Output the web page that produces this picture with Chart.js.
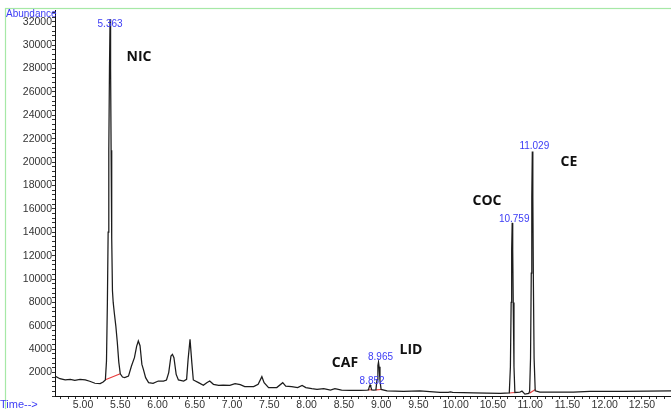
<!DOCTYPE html>
<html>
<head>
<meta charset="utf-8">
<script src="https://cdn.jsdelivr.net/npm/chart.js@4/dist/chart.umd.min.js"></script>
<style>
  html, body { margin: 0; padding: 0; background: #fff; overflow: hidden; }
  canvas { display: block; }
</style>
</head>
<body>
<canvas id="tic" width="671" height="409"></canvas>
<script>
// Total ion chromatogram: retention time (min) vs abundance
const traceTime = [
  4.624, 4.69, 4.76, 4.83, 4.89, 4.96, 5.03, 5.09, 5.16, 5.23, 5.27, 5.30,
  5.315, 5.327, 5.337, 5.346, 5.355, 5.363, 5.370, 5.377, 5.385, 5.395, 5.405,
  5.42, 5.44, 5.46, 5.48, 5.50, 5.53, 5.56, 5.61, 5.65, 5.69, 5.72, 5.742,
  5.765, 5.79, 5.81, 5.84, 5.88, 5.94, 6.01, 6.08, 6.12, 6.15, 6.18, 6.20,
  6.22, 6.25, 6.28, 6.35, 6.39, 6.41, 6.436, 6.46, 6.48, 6.55, 6.615, 6.66,
  6.70, 6.75, 6.82, 6.88, 6.97, 7.04, 7.11, 7.17, 7.29, 7.35, 7.40, 7.43,
  7.49, 7.60, 7.68, 7.72, 7.80, 7.88, 7.94, 7.99, 8.07, 8.14, 8.23, 8.32,
  8.38, 8.47, 8.58, 8.72, 8.81, 8.83, 8.842, 8.852, 8.862, 8.875, 8.90, 8.93,
  8.945, 8.957, 8.965, 8.973, 8.985, 9.00, 9.08, 9.30, 9.52, 9.79, 9.90, 9.93,
  9.96, 10.24, 10.60, 10.72, 10.735, 10.745, 10.752, 10.759, 10.766, 10.773,
  10.783, 10.795, 10.86, 10.89, 10.93, 10.98, 10.993, 11.005, 11.015, 11.022,
  11.029, 11.036, 11.043, 11.053, 11.068, 11.13, 11.58, 11.80, 12.25, 12.89
];
const traceAbundance = [
  1700, 1480, 1370, 1420, 1340, 1420, 1370, 1260, 1090, 1060, 1200, 1380,
  3000, 8000, 14000, 21000, 28000, 32200, 28000, 21000, 13500, 9000, 8000,
  7100, 6000, 4600, 2900, 1900, 1620, 1570, 1700, 2560, 3280, 4270, 4700,
  4300, 2700, 2280, 1570, 1140, 1090, 1280, 1280, 1370, 2000, 3410, 3560,
  3280, 1850, 1370, 1280, 1420, 3130, 4840, 2850, 1370, 1140, 910, 1140,
  1280, 1000, 910, 940, 910, 1060, 970, 800, 800, 1000, 1650, 1140,
  720, 720, 1140, 850, 800, 720, 910, 720, 630, 570, 630, 510,
  630, 510, 490, 490, 510, 520, 800, 950, 780, 520, 500, 520,
  1400, 2600, 2900, 2500, 1300, 560, 430, 400, 430, 300, 320, 360,
  310, 260, 230, 260, 2500, 8000, 12500, 14800, 12500, 8000,
  2500, 300, 320, 420, 160, 220, 400, 3200, 10500, 17000,
  20900, 17000, 10000, 3200, 450, 340, 340, 400, 400, 430
];

// Integration baselines drawn under the integrated peaks (null separates segments)
const baselineTime = [5.30, 5.50, 5.51, 8.83, 8.875, 8.88, 8.93, 9.00, 9.01, 10.72, 10.795, 10.80, 10.99, 11.07];
const baselineAbundance = [1380, 1900, null, 520, 540, null, 520, 560, null, 260, 300, null, 230, 560];

// Integrated peaks: retention time and apex abundance
const peakTimes = [5.363, 8.852, 8.965, 10.759, 11.029];
const peakAbundance = [32200, 950, 2900, 14800, 20900];

// Compound names
const compoundNames = ['NIC', 'CAF', 'LID', 'COC', 'CE'];

// Axis tick labels
const xTickLabels = ['5.00', '5.50', '6.00', '6.50', '7.00', '7.50', '8.00', '8.50',
  '9.00', '9.50', '10.00', '10.50', '11.00', '11.50', '12.00', '12.50'];
const yTickLabels = [2000, 4000, 6000, 8000, 10000, 12000, 14000, 16000,
  18000, 20000, 22000, 24000, 26000, 28000, 30000, 32000];

const toPoints = (xs, ys) => xs.map((x, i) => ({ x: x, y: ys[i] }));

const BLUE = '#3c3cf5';

// Light green frame around the whole report panel
const framePlugin = {
  id: 'frame',
  beforeDraw(chart) {
    const ctx = chart.ctx;
    ctx.save();
    ctx.fillStyle = '#fff';
    ctx.fillRect(0, 0, chart.width, chart.height);
    ctx.strokeStyle = '#a6e8a6';
    ctx.lineWidth = 1.2;
    ctx.strokeRect(5.5, 8.5, chart.width + 20, chart.height + 20);
    ctx.restore();
  }
};

// Axis titles, retention-time labels and compound names
const labelPlugin = {
  id: 'labels',
  afterDatasetsDraw(chart) {
    const ctx = chart.ctx;
    const xs = chart.scales.x, ys = chart.scales.y;
    ctx.save();
    ctx.textBaseline = 'middle';

    ctx.fillStyle = BLUE;
    ctx.textAlign = 'left';
    ctx.font = '10px "Liberation Sans", Arial, sans-serif';
    ctx.fillText('Abundance', 6, 14);
    ctx.font = '11px "Liberation Sans", Arial, sans-serif';
    ctx.fillText('Time-->', 0, 405);

    // retention time printed next to each integrated apex
    const offsets = [[0, 4.5], [2, -4], [2, -5], [2, -4], [2, -5]];
    ctx.textAlign = 'center';
    ctx.font = '10px "Liberation Sans", Arial, sans-serif';
    peakTimes.forEach((t, i) => {
      const px = xs.getPixelForValue(t) + offsets[i][0];
      const py = ys.getPixelForValue(peakAbundance[i]) + offsets[i][1];
      ctx.fillText(t.toFixed(3), px, py);
    });

    const namePos = [[139, 57], [345, 363], [411, 350], [487, 201], [569, 162]];
    ctx.fillStyle = '#111';
    ctx.font = 'bold 14px "Open Sans", sans-serif';
    compoundNames.forEach((n, i) => ctx.fillText(n, namePos[i][0], namePos[i][1]));
    ctx.restore();
  }
};

const tickFont = { family: '"Liberation Sans", Arial, sans-serif', size: 10.5 };

new Chart(document.getElementById('tic'), {
  type: 'line',
  data: {
    datasets: [
      {
        data: toPoints(traceTime, traceAbundance),
        borderColor: '#1c1c1c',
        borderWidth: 1.25,
        pointRadius: 0,
        tension: 0
      },
      {
        data: toPoints(baselineTime, baselineAbundance),
        borderColor: '#e83a3a',
        borderWidth: 1.1,
        pointRadius: 0,
        tension: 0,
        spanGaps: false
      }
    ]
  },
  options: {
    responsive: false,
    animation: false,
    devicePixelRatio: 1,
    parsing: false,
    layout: { padding: { top: 10, left: 0, right: 0, bottom: 0 } },
    plugins: { legend: { display: false }, tooltip: { enabled: false } },
    scales: {
      x: {
        type: 'linear',
        min: 4.624,
        max: 12.89,
        afterFit(s) { s.height = 13; },
        afterBuildTicks(s) {
          const t = [];
          for (let v = 47; v <= 128; v++) t.push({ value: v / 10 });
          s.ticks = t;
        },
        ticks: {
          autoSkip: false,
          maxRotation: 0,
          padding: 0,
          color: '#333',
          font: tickFont,
          callback: v => xTickLabels.find(l => Math.abs(parseFloat(l) - v) < 1e-6) || ''
        },
        grid: { drawOnChartArea: false, tickLength: 3, color: '#333' },
        border: { color: '#111', width: 1 }
      },
      y: {
        min: 0,
        max: 33000,
        afterFit(s) { s.width = 55; },
        afterBuildTicks(s) {
          const t = [];
          for (let v = 0; v <= 32800; v += 400) t.push({ value: v });
          s.ticks = t;
        },
        ticks: {
          autoSkip: false,
          padding: 0,
          color: '#333',
          font: tickFont,
          callback: v => yTickLabels.includes(v) ? String(v) : ''
        },
        grid: { drawOnChartArea: false, tickLength: 3, color: '#333' },
        border: { color: '#111', width: 1 }
      }
    }
  },
  plugins: [framePlugin, labelPlugin]
});
</script>
</body>
</html>
